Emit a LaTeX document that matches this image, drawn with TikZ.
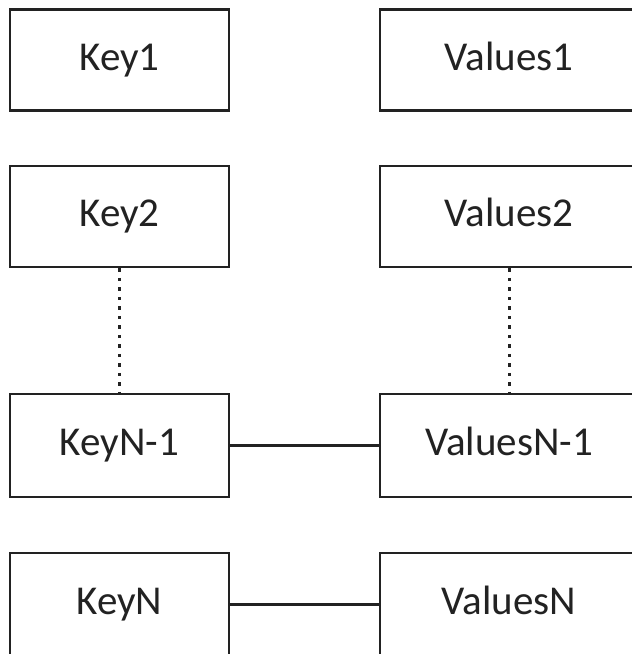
\documentclass[tikz,border=0pt]{standalone}
\usepackage{fontspec}
\setmainfont{Carlito}
\definecolor{ink}{HTML}{222222}
\begin{document}
\begin{tikzpicture}[x=1pt,y=-1pt,
  box/.style={draw=ink,line width=2.6pt,rectangle,inner sep=0pt,
    text=ink,font=\fontsize{41}{42}\selectfont,text height=30pt,text depth=10pt},
  keybox/.style={box,minimum width=219pt,minimum height=101pt},
  valbox/.style={box,minimum width=258pt,minimum height=101pt},
  link/.style={draw=ink,line width=2.4pt},
  dots/.style={draw=ink,line width=3pt,dash pattern=on 3.5pt off 6pt}]
\useasboundingbox (0,0) rectangle (632,654);
\fill[white] (0,0) rectangle (632,654);
\node[keybox] (k1) at (119.5,60) {Key1};
\node[keybox] (k2) at (119.5,216.5) {Key2};
\node[keybox,minimum height=103pt] (kn1) at (119.5,445.5) {KeyN-1};
\node[keybox,minimum height=103pt] (kn) at (119.5,604.5) {KeyN};
\node[valbox] (v1) at (509,60) {Values1};
\node[valbox] (v2) at (509,216.5) {Values2};
\node[valbox,minimum height=103pt] (vn1) at (509,445.5) {ValuesN-1};
\node[valbox,minimum height=103pt] (vn) at (509,604.5) {ValuesN};
\draw[dots] (k2.south) -- (kn1.north);
\draw[dots] (v2.south) -- (vn1.north);
\draw[link] (kn1.east) -- (vn1.west);
\draw[link] (kn.east) -- (vn.west);
\end{tikzpicture}
\end{document}
